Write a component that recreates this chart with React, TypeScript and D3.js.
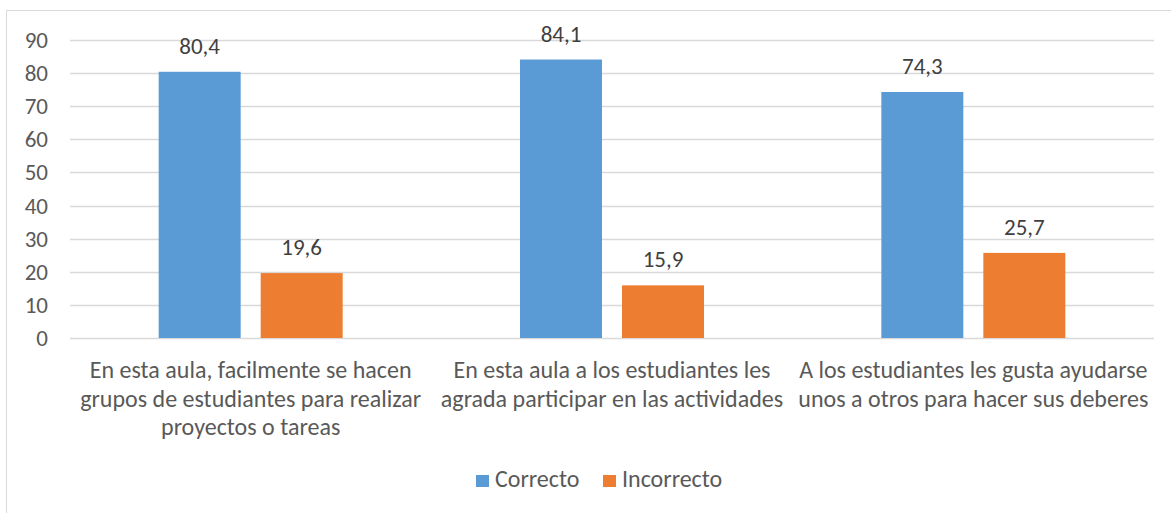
import React, { useEffect, useRef } from 'react';
import * as d3 from 'd3';

const categories = [
  ['En esta aula, facilmente se hacen', 'grupos de estudiantes para realizar', 'proyectos o tareas'],
  ['En esta aula a los estudiantes les', 'agrada participar en las actividades'],
  ['A los estudiantes les gusta ayudarse', 'unos a otros para hacer sus deberes'],
];
const seriesNames = ['Correcto', 'Incorrecto'];
const correcto = [80.4, 84.1, 74.3];
const incorrecto = [19.6, 15.9, 25.7];
const yTicks = [0, 10, 20, 30, 40, 50, 60, 70, 80, 90];
const colors = ['#5B9BD5', '#ED7D31'];

const FONT = "Carlito, Lato, sans-serif";

const App: React.FC = () => {
  const ref = useRef<SVGSVGElement>(null);

  useEffect(() => {
    if (!ref.current) return;
    const svg = d3.select(ref.current);
    svg.selectAll('*').remove();

    const W = 1171;
    const H = 513;
    const plot = { left: 70, right: 1154, top: 40, bottom: 338 };

    svg
      .append('rect')
      .attr('x', 6.5)
      .attr('y', 10.5)
      .attr('width', W + 10)
      .attr('height', H + 10)
      .attr('fill', '#fff')
      .attr('stroke', '#d9d9d9');

    const x0 = d3
      .scaleBand<number>()
      .domain(d3.range(categories.length))
      .range([plot.left, plot.right]);
    const x1 = d3
      .scaleBand<number>()
      .domain([0, 1])
      .range([0, 184])
      .paddingInner(20 / 102);
    const y = d3.scaleLinear().domain([0, 90]).range([plot.bottom, plot.top]);

    // gridlines
    svg
      .append('g')
      .selectAll('line')
      .data(yTicks)
      .enter()
      .append('line')
      .attr('x1', plot.left)
      .attr('x2', plot.right)
      .attr('y1', (d) => Math.round(y(d)) + 0.5)
      .attr('y2', (d) => Math.round(y(d)) + 0.5)
      .attr('stroke', '#d9d9d9')
      .attr('stroke-width', 1.5);

    // y labels
    svg
      .append('g')
      .selectAll('text')
      .data(yTicks)
      .enter()
      .append('text')
      .attr('x', 48)
      .attr('y', (d) => y(d))
      .attr('dy', '0.35em')
      .attr('text-anchor', 'end')
      .attr('fill', '#595959')
      .style('font-family', FONT)
      .style('font-size', '23px')
      .text((d) => d);

    const data = [correcto, incorrecto];
    const groupOffset = (x0.bandwidth() - 184) / 2;

    data.forEach((vals, si) => {
      const g = svg.append('g');
      g.selectAll('rect')
        .data(vals)
        .enter()
        .append('rect')
        .attr('x', (_d, i) => (x0(i) ?? 0) + groupOffset + (x1(si) ?? 0))
        .attr('y', (d) => y(d))
        .attr('width', x1.bandwidth())
        .attr('height', (d) => y(0) - y(d))
        .attr('fill', colors[si]);
      g.selectAll('text')
        .data(vals)
        .enter()
        .append('text')
        .attr('x', (_d, i) => (x0(i) ?? 0) + groupOffset + (x1(si) ?? 0) + x1.bandwidth() / 2)
        .attr('y', (d) => y(d) - 18)
        .attr('text-anchor', 'middle')
        .attr('fill', '#404040')
        .style('font-family', FONT)
        .style('font-size', '23px')
        .text((d) => d.toFixed(1).replace('.', ','));
    });

    // category labels
    categories.forEach((lines, i) => {
      const cx = (x0(i) ?? 0) + x0.bandwidth() / 2;
      const t = svg
        .append('text')
        .attr('text-anchor', 'middle')
        .attr('fill', '#595959')
        .style('font-family', FONT)
        .style('font-size', '24px');
      lines.forEach((line, li) => {
        t.append('tspan')
          .attr('x', cx)
          .attr('y', 378 + li * 28.5)
          .text(line);
      });
    });

    // legend
    const legendX = [476, 603];
    const legend = svg.append('g');
    seriesNames.forEach((name, i) => {
      legend
        .append('rect')
        .attr('x', legendX[i])
        .attr('y', 475)
        .attr('width', 13)
        .attr('height', 12)
        .attr('fill', colors[i]);
      legend
        .append('text')
        .attr('x', legendX[i] + 19)
        .attr('y', 487)
        .attr('fill', '#595959')
        .style('font-family', FONT)
        .style('font-size', '24px')
        .text(name);
    });
  }, []);

  return (
    <div style={{ position: 'absolute', left: 0, top: 0, width: 1171, height: 513 }}>
      <svg ref={ref} width={1171} height={513} style={{ display: 'block' }} />
    </div>
  );
};

export default App;
